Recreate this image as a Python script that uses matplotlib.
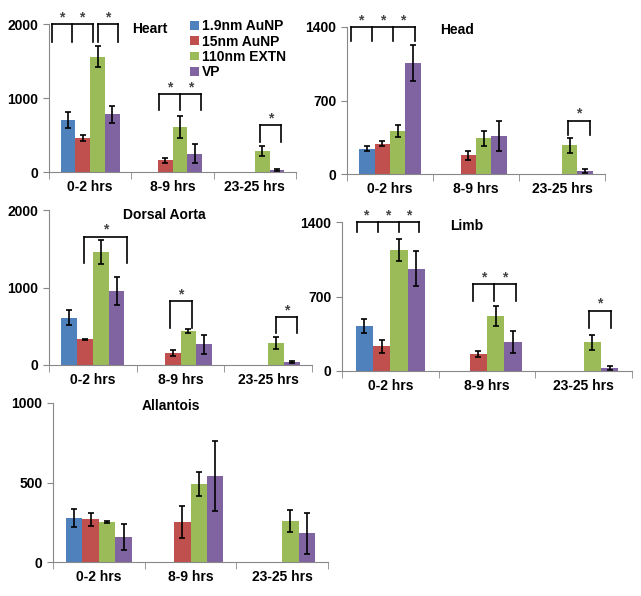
import numpy as np
import matplotlib.pyplot as plt

plt.rcParams['font.family'] = ['Liberation Sans', 'DejaVu Sans']
plt.rcParams['font.weight'] = 'bold'

groups = ["0-2 hrs", "8-9 hrs", "23-25 hrs"]
series = ["1.9nm AuNP", "15nm AuNP", "110nm EXTN", "VP"]
colors = ["#4F81BD", "#C0504D", "#9BBB59", "#8064A2"]
nan = np.nan

# rows = series, columns = time groups
heart_mean = [[700, nan, nan], [460, 160, nan], [1560, 610, 280], [780, 250, 30]]
heart_err = [[110, nan, nan], [35, 35, nan], [145, 145, 65], [115, 130, 12]]

head_mean = [[240, nan, nan], [290, 180, nan], [410, 340, 272], [1055, 360, 28]]
head_err = [[25, nan, nan], [20, 42, nan], [58, 70, 68], [170, 145, 18]]

aorta_mean = [[610, nan, nan], [331, 155, nan], [1460, 440, 280], [950, 265, 34]]
aorta_err = [[100, nan, nan], [5, 40, nan], [155, 25, 75], [180, 120, 12]]

limb_mean = [[424, nan, nan], [232, 163, nan], [1140, 520, 270], [960, 270, 31]]
limb_err = [[68, nan, nan], [60, 28, nan], [103, 93, 68], [165, 102, 20]]

allantois_mean = [[275, nan, nan], [268, 249, nan], [249, 490, 256], [155, 543, 180]]
allantois_err = [[58, nan, nan], [42, 101, nan], [6, 78, 70], [82, 221, 131]]


def draw_panel(ax, mean, err, ymax, title, title_xy):
    x = np.arange(len(groups))
    w = 0.18
    for i in range(len(series)):
        pos = x + (i - 1.5) * w
        ax.bar(pos, mean[i], w, color=colors[i], label=series[i])
        ax.errorbar(pos, mean[i], yerr=err[i], fmt='none', ecolor='black',
                    elinewidth=1.2, capsize=2, capthick=1.2)
    ax.set_xlim(-0.5, 2.5)
    ax.set_ylim(0, ymax)
    ax.set_yticks([0, ymax / 2, ymax])
    ax.set_xticks(x, groups)
    ax.set_xticks([-0.5, 0.5, 1.5, 2.5], minor=True)
    ax.tick_params(axis='x', which='major', length=0, pad=6, labelsize=10)
    ax.tick_params(axis='x', which='minor', length=5, color='#888888')
    ax.tick_params(axis='y', length=4, color='#888888', labelsize=10)
    for s in ['top', 'right']:
        ax.spines[s].set_visible(False)
    for s in ['left', 'bottom']:
        ax.spines[s].set_color('#888888')
    ax.text(title_xy[0], title_xy[1], title, ha='center', va='center', fontsize=10)


def draw_bracket(ax, xs, ytop, ybot, stars):
    ax.plot([xs[0], xs[-1]], [ytop, ytop], color='black', lw=1.2, clip_on=False)
    for xv in xs:
        ax.plot([xv, xv], [ytop, ybot], color='black', lw=1.2, clip_on=False)
    for sx in stars:
        ax.annotate('*', (sx, ytop), xytext=(0, 0), textcoords='offset points',
                    ha='center', va='bottom', fontsize=10, color='#444444',
                    annotation_clip=False)


W, H = 641, 596
fig = plt.figure(figsize=(W / 100, H / 100), dpi=100)


def add_axes(left, right, top, bottom):
    return fig.add_axes([left / W, 1 - bottom / H, (right - left) / W, (bottom - top) / H])


ax1 = add_axes(49, 296, 24, 172)
draw_panel(ax1, heart_mean, heart_err, 2000, "Heart", (0.73, 1930))
draw_bracket(ax1, [-0.46, -0.215, 0.04], 2000, 1760, [-0.35, -0.10])
draw_bracket(ax1, [0.09, 0.34], 2000, 1760, [0.21])
draw_bracket(ax1, [0.83, 1.09, 1.35], 1050, 837, [0.96, 1.22])
draw_bracket(ax1, [2.06, 2.32], 633, 407, [2.19])
ax1.legend(loc='upper left', bbox_to_anchor=(0.55, 1.07), frameon=False,
           fontsize=10, handlelength=0.6, handleheight=0.6, handletextpad=0.2,
           labelspacing=0.1, borderaxespad=0)

ax2 = add_axes(347, 605, 27, 174)
draw_panel(ax2, head_mean, head_err, 1400, "Head", (0.78, 1375))
draw_bracket(ax2, [-0.45, -0.21, 0.04, 0.29], 1400, 1267, [-0.34, -0.09, 0.15])
draw_bracket(ax2, [2.07, 2.32], 509, 373, [2.19])

ax3 = add_axes(49, 312, 210, 365)
draw_panel(ax3, aorta_mean, aorta_err, 2000, "Dorsal Aorta", (0.82, 1935))
draw_bracket(ax3, [-0.10, 0.39], 1656, 1320, [0.15])
draw_bracket(ax3, [0.88, 1.13], 826, 482, [1.0])
draw_bracket(ax3, [2.095, 2.33], 615, 409, [2.21])

ax4 = add_axes(342, 632, 222, 371)
draw_panel(ax4, limb_mean, limb_err, 1400, "Limb", (0.79, 1366))
draw_bracket(ax4, [-0.35, -0.13, 0.09, 0.30], 1400, 1306, [-0.25, -0.03, 0.19])
draw_bracket(ax4, [0.85, 1.076, 1.30], 816, 659, [0.97, 1.18])
draw_bracket(ax4, [2.06, 2.28], 565, 408, [2.17])

ax5 = add_axes(53, 328, 403, 562)
draw_panel(ax5, allantois_mean, allantois_err, 1000, "Allantois", (0.79, 979))

fig.savefig("out.png", dpi=100)
